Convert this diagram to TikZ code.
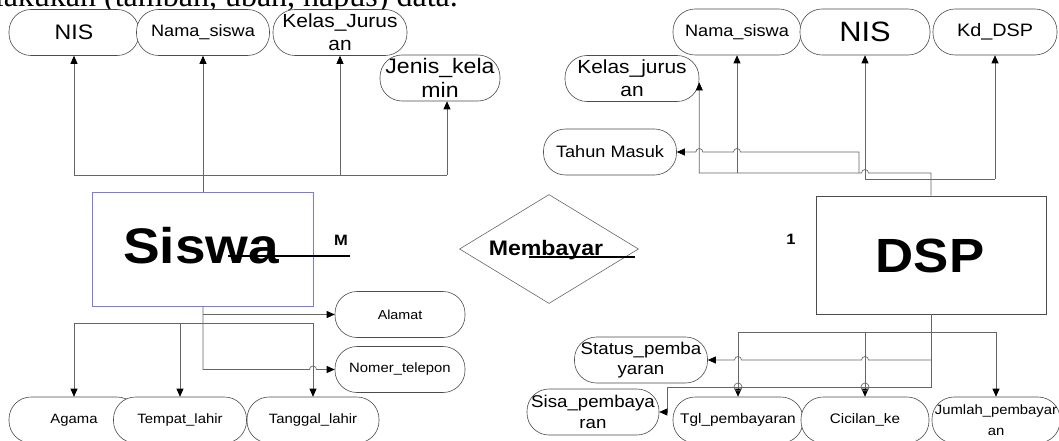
\documentclass[tikz,border=0pt]{standalone}
\usepackage{fontspec}
\setmainfont{Liberation Sans}[FakeStretch=1.1]
\newfontfamily\docserif{Liberation Serif}
\usetikzlibrary{shapes.geometric,arrows.meta,calc}
\newcommand\fz[2]{\fontsize{#1}{#2}\selectfont}

\tikzset{
  attr/.style={draw=black!70, line width=0.6pt, fill=white, rounded corners=22pt,
    minimum height=46pt, inner sep=0pt, align=center},
  entity/.style={draw=black!70, line width=0.6pt, fill=white, inner sep=0pt},
  conn/.style={draw=black!60, line width=0.7pt},
  arr/.style={conn, -{Triangle[length=8pt,width=7pt,color=black]}},
  card/.style={line width=1.6pt, draw=black},
  lbl/.style={inner sep=0pt},
  hop/.style={radius=3.5pt}
}

\begin{document}
\begin{tikzpicture}[x=1pt,y=1pt]
\useasboundingbox (0,0) rectangle (1059,-441);
\clip (0,0) rectangle (1059,-441);

% heading line of the page, cut by the page edge
\node[lbl, anchor=base east] (head) at (458,-7) {\docserif\fz{32}{38}melakukan (tambah, ubah, hapus) data.};

% horizontal levels of the connectors
\coordinate (yL1) at (0,-175);
\coordinate (yL2) at (0,-323);
\coordinate (yR1) at (0,-173);
\coordinate (yR2) at (0,-179);
\coordinate (yR3) at (0,-332);
\coordinate (yR4) at (0,-387);

% ---------- entity Siswa ----------
\node[entity, draw={rgb,255:red,120;green,120;blue,245}, minimum width=221pt, minimum height=114pt] (siswa) at (203,-249) {};
\node[lbl, anchor=base, font=\bfseries\fz{50}{55}] (siswaT) at (201,-263) {Siswa};
\coordinate (mA) at (228,-256);
\coordinate (mB) at (350,-256);
\draw[card] (mA) -- (mB);
\node[lbl, font=\bfseries\fz{15}{18}] (mLab) at (341,-240) {M};

% attributes of Siswa (top)
\node[attr, minimum width=130pt, font=\fz{21}{24}] (lNIS) at (74,-32.5) {NIS};
\node[attr, minimum width=133pt, font=\fz{16.5}{20}] (lNama) at (203,-32.5) {Nama\_siswa};
\node[attr, minimum width=134pt, font=\fz{19}{23}] (lKelas) at (340,-32.5) {Kelas\_Jurus\\an};
\node[attr, minimum width=120pt, font=\fz{21}{24}] (lJenis) at (440,-78) {Jenis\_kela\\min};
\coordinate (jenisIn) at ($(lJenis.south)+(7,0)$);

\draw[conn] (siswa.north) -- (siswa.north |- yL1);
\draw[conn] (lNIS.south |- yL1) -- (jenisIn |- yL1);
\draw[arr] (lNIS.south |- yL1) -- (lNIS.south);
\draw[arr] (siswa.north |- yL1) -- (lNama.south);
\draw[arr] (lKelas.south |- yL1) -- (lKelas.south);
\draw[arr] (jenisIn |- yL1) -- (jenisIn);

% attributes of Siswa (bottom)
\node[attr, minimum width=130pt, font=\fz{13}{16}] (alamat) at (400,-314.5) {Alamat};
\node[attr, minimum width=130pt, font=\fz{13.5}{16}] (nomer) at (400,-369.5) {Nomer\_telepon};
\node[attr, minimum width=130pt, font=\fz{13.5}{16}] (agama) at (74,-420) {Agama};
\node[attr, minimum width=133pt, font=\fz{13.5}{16}] (tempat) at (180,-420) {Tempat\_lahir};
\node[attr, minimum width=132pt, font=\fz{13.5}{16}] (tanggal) at (313,-420) {Tanggal\_lahir};

\draw[arr] (siswa.south) -- (siswa.south |- nomer.west)
  -- ($(tanggal.north |- nomer.west)+(-3.5,0)$) arc[start angle=180, end angle=0, hop]
  -- (nomer.west);
\draw[arr] (siswa.south |- alamat.west) -- (alamat.west);
\draw[conn] (agama.north |- yL2) -- (tanggal.north |- yL2);
\draw[arr] (agama.north |- yL2) -- (agama.north);
\draw[arr] (tempat.north |- yL2) -- (tempat.north);
\draw[arr] (tanggal.north |- yL2) -- (tanggal.north);

% ---------- relationship ----------
\node[diamond, draw=black!60, line width=0.6pt, minimum width=179pt, minimum height=109pt, inner sep=0pt] (memb) at (549,-249) {};
\node[lbl, anchor=base, font=\bfseries\fz{21}{24}] (membT) at (546,-255) {Membayar};
\coordinate (uA) at (529,-257);
\coordinate (uB) at (635,-257);
\draw[card] (uA) -- (uB);

% ---------- entity DSP ----------
\node[entity, minimum width=230pt, minimum height=118pt] (dsp) at (931,-255) {};
\node[lbl, anchor=base, font=\bfseries\fz{48}{52}] (dspT) at (930,-272) {DSP};
\node[lbl, font=\bfseries\fz{15}{18}] (oneLab) at (791,-239) {1};

% attributes of DSP (top)
\node[attr, minimum width=128pt, font=\fz{16.5}{20}] (rNama) at (737,-32) {Nama\_siswa};
\node[attr, minimum width=130pt, font=\fz{28}{32}] (rNIS) at (865,-32) {NIS};
\node[attr, minimum width=124pt, font=\fz{18}{21}] (rKd) at (995,-32) {Kd\_DSP};
\node[attr, minimum width=134pt, font=\fz{19}{23}] (rKelas) at (632,-78.5) {Kelas\_jurus\\an};
\node[attr, minimum width=133pt, font=\fz{16.5}{20}] (rTahun) at (610,-152) {Tahun Masuk};
\coordinate (kIn) at ($(rKelas.east)+(0,-4)$);
\coordinate (tCorner) at ($(rNIS.south |- yR1)+(-6,0)$);

\draw[arr] (dsp.north) -- (dsp.north |- yR1)
  -- ($(rNIS.south |- yR1)+(3.5,0)$) arc[start angle=0, end angle=180, hop]
  -- (kIn |- yR1) -- (kIn);
\draw[arr] (rNama.south |- yR1) -- (rNama.south);
\draw[arr] (tCorner) -- (tCorner |- rTahun.east)
  -- ($(rNama.south |- rTahun.east)+(3.5,0)$) arc[start angle=0, end angle=180, hop]
  -- ($(kIn |- rTahun.east)+(3.5,0)$) arc[start angle=0, end angle=180, hop]
  -- (rTahun.east);
\draw[conn] (rNIS.south |- yR2) -- (rKd.south |- yR2);
\draw[arr] (rNIS.south |- yR2) -- (rNIS.south);
\draw[arr] (rKd.south |- yR2) -- (rKd.south);

% attributes of DSP (bottom)
\node[attr, minimum width=133pt, font=\fz{17}{20}] (rStatus) at (641,-360) {Status\_pemba\\yaran};
\node[attr, minimum width=132pt, font=\fz{17}{21}] (rSisa) at (593,-412) {Sisa\_pembaya\\ran};
\node[attr, minimum width=130pt, font=\fz{14}{17}] (rTgl) at (738,-420) {Tgl\_pembayaran};
\node[attr, minimum width=128pt, font=\fz{13.8}{17}] (rCic) at (865,-420) {Cicilan\_ke};
\node[attr, minimum width=128pt, font=\fz{13.5}{21}] (rJum) at (996,-420) {Jumlah\_pembayar\\an};
\coordinate (sBend) at (667,-387);

\draw[arr] (dsp.south) -- (dsp.south |- yR4) -- (sBend) |- (rSisa.east);
\draw[conn] (rTgl.north |- yR3) -- (rJum.north |- yR3);
\draw[arr] (rTgl.north |- yR3) -- (rTgl.north);
\draw[arr] (rCic.north |- yR3) -- (rCic.north);
\draw[arr] (rJum.north |- yR3) -- (rJum.north);
\draw[arr] (dsp.south |- rStatus.east)
  -- ($(rCic.north |- rStatus.east)+(3.5,0)$) arc[start angle=0, end angle=180, hop]
  -- ($(rTgl.north |- rStatus.east)+(3.5,0)$) arc[start angle=0, end angle=180, hop]
  -- (rStatus.east);
\draw[conn] (rTgl.north |- yR4) circle[radius=4pt];
\draw[conn] (rCic.north |- yR4) circle[radius=4pt];
\end{tikzpicture}
\end{document}
